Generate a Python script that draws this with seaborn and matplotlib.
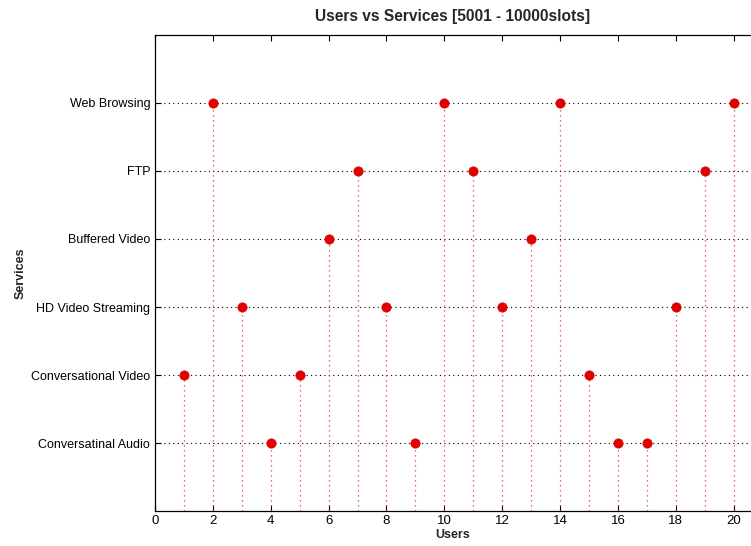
import pandas as pd
import seaborn as sns
import matplotlib.pyplot as plt

# Services (bottom to top) and the users assigned to each
services = ["Conversatinal Audio", "Conversational Video", "HD Video Streaming",
            "Buffered Video", "FTP", "Web Browsing"]
audio_users = [4, 9, 16, 17]
conv_video_users = [1, 5, 15]
hd_video_users = [3, 8, 12, 18]
buffered_users = [6, 13]
ftp_users = [7, 11, 19]
web_users = [2, 10, 14, 20]


def main():
    groups = [audio_users, conv_video_users, hd_video_users,
              buffered_users, ftp_users, web_users]
    rows = []
    for i, users in enumerate(groups):
        for u in users:
            rows.append({"user": u, "service": i + 1})
    df = pd.DataFrame(rows)

    sns.set_style("white")
    plt.rcParams["font.family"] = ["Liberation Sans", "DejaVu Sans"]

    fig = plt.figure(figsize=(7.51, 5.46), dpi=100)
    ax = fig.add_axes([0.2064, 0.0641, 0.7936, 0.8718])

    # dotted stems from each point down to the axis
    ax.vlines(df["user"], 0, df["service"], colors="#d04040",
              linestyles=(0, (1, 3)), linewidth=0.9, zorder=1)
    sns.scatterplot(data=df, x="user", y="service", color="#e00000",
                    s=45, edgecolor="#e00000", linewidth=0.5, ax=ax, zorder=3)

    ax.set_xlim(0, 20.6)
    ax.set_ylim(0, 7)
    ax.set_xticks(range(0, 21, 2))
    ax.set_yticks(range(1, 7))
    ax.set_yticklabels(services)
    ax.yaxis.grid(True, color="black", linestyle=(0, (1, 3)), linewidth=0.8)
    ax.tick_params(direction="in", length=4, width=0.8, labelsize=9,
                   top=True, left=True, bottom=True, colors="black")
    ax.tick_params(axis="x", labelsize=9.5, pad=3)
    for side in ["left", "top", "bottom"]:
        ax.spines[side].set_color("black")
        ax.spines[side].set_linewidth(0.9)
    ax.spines["right"].set_visible(False)

    ax.set_xlabel("Users", fontsize=9, fontweight="bold", labelpad=1)
    ax.set_ylabel("Services", fontsize=9, fontweight="bold", labelpad=3)
    ax.set_title("Users vs Services [5001 - 10000slots]", fontsize=11.2,
                 fontweight="bold", pad=10)

    fig.savefig("out.png", dpi=100)


if __name__ == "__main__":
    main()
